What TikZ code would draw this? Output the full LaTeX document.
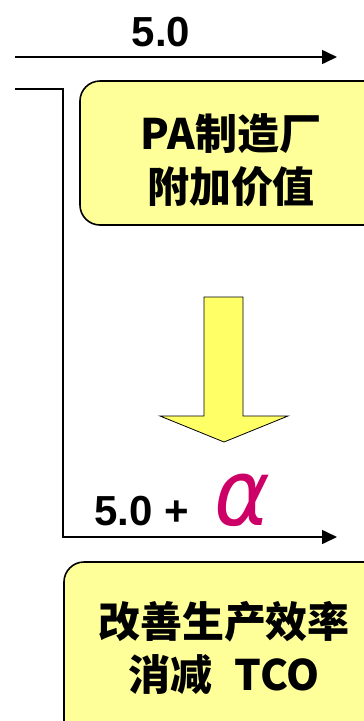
\documentclass[tikz,border=0pt]{standalone}
\usepackage{fontspec}
\usepackage{graphicx}
\setmainfont{Liberation Sans}
\newfontfamily\cjk{Noto Sans CJK SC}
\newfontfamily\greek{DejaVu Sans}
\usetikzlibrary{arrows.meta}
\definecolor{boxyellow}{HTML}{FFFF99}
\definecolor{arrowyellow}{HTML}{FFFF66}
\definecolor{alphamag}{HTML}{CC0066}
\tikzset{
  flow/.style={line width=1.6pt,-{Triangle[length=15pt,width=14pt]}},
  infobox/.style={draw=black,line width=1.6pt,fill=boxyellow,rounded corners=20pt},
  cjktext/.style={align=center,font=\cjk\bfseries\fontsize{42}{53}\selectfont,inner sep=0pt},
  numtext/.style={font=\bfseries\fontsize{42}{44}\selectfont,inner sep=0pt}
}
\begin{document}
\begin{tikzpicture}[x=1pt,y=-1pt]
\useasboundingbox (0,0) rectangle (364,721);
\clip (0,0) rectangle (364,721);
% top arrow
\coordinate (t0) at (15,57);
\coordinate (t1) at (337,57);
\draw[flow] (t0) -- (t1);
\node[numtext,anchor=base] (lbltop) at (161,46) {5.0};
% L line with arrow
\coordinate (l0) at (15,89);
\coordinate (l1) at (63,89);
\coordinate (l2) at (63,537);
\coordinate (l3) at (337,537);
\draw[flow] (l0) -- (l1) -- (l2) -- (l3);
% top box
\path[infobox] (80,81) rectangle (390,225);
\node[cjktext] (boxtop) at (231,160) {PA制造厂\\附加价值};
% big arrow
\path[draw=black,line width=0.8pt,fill=arrowyellow]
  (204,297) -- (243,297) -- (243,416) -- (288,416) -- (224,442) -- (160,416) -- (204,416) -- cycle;
% label 5.0 + alpha
\node[numtext,anchor=base west] (lblbot) at (94,525) {5.0 +};
\node[anchor=base west,inner sep=0pt,text=alphamag,font=\greek\itshape\fontsize{92}{92}\selectfont] (alpha) at (214,525) {\scalebox{0.92}[1]{α}};
% bottom box
\path[infobox] (64,562) rectangle (390,760);
\node[cjktext] (boxbot) at (224,648) {改善生产效率\\消减\hspace{0.3em} TCO};
\end{tikzpicture}
\end{document}
